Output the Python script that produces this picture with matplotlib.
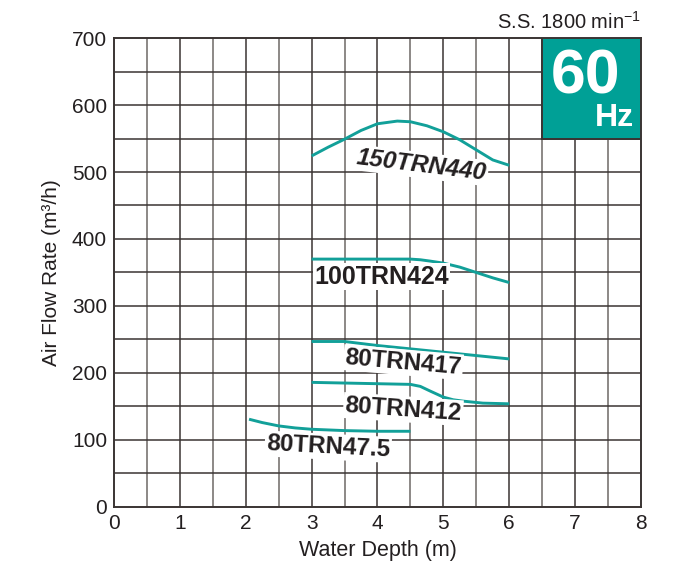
import matplotlib
matplotlib.use("Agg")
import matplotlib.pyplot as plt
from matplotlib.patches import Rectangle

plt.rcParams['font.family'] = ['Liberation Sans', 'DejaVu Sans']
plt.rcParams['mathtext.fontset'] = 'custom'
plt.rcParams['mathtext.rm'] = 'Liberation Sans'

# ---- data ----
x_150 = [3.0, 3.25, 3.5, 3.75, 4.0, 4.3, 4.5, 4.75, 5.0, 5.25, 5.5, 5.75, 6.0]
y_150 = [524, 537, 549, 562, 572, 576, 575, 569, 560, 548, 533, 518, 510]

x_100 = [3.0, 3.5, 4.0, 4.5, 4.65, 4.8, 5.0, 5.25, 5.5, 5.75, 6.0]
y_100 = [370, 370, 370, 370, 369, 367, 364, 358, 350, 342, 335]

x_417 = [3.0, 3.5, 4.0, 4.5, 5.0, 5.5, 6.0]
y_417 = [247, 247, 241, 236, 231, 226, 221]

x_412 = [3.0, 3.5, 4.0, 4.5, 4.65, 4.8, 5.0, 5.15, 5.3, 5.6, 6.0]
y_412 = [186, 185, 184, 183, 180, 173, 164, 160, 158, 155, 154]

x_47 = [2.05, 2.25, 2.5, 2.75, 3.0, 3.5, 4.0, 4.5]
y_47 = [131, 126, 121, 118, 116, 114, 113, 113]

series = [
    (x_150, y_150, "150TRN440", 4.67, 510, -7, True, 17.5),
    (x_100, y_100, "100TRN424", 4.06, 344, 0, False, 18),
    (x_417, y_417, "80TRN417", 4.39, 216, -5, False, 17.5),
    (x_412, y_412, "80TRN412", 4.39, 146, -4, False, 17.5),
    (x_47, y_47, "80TRN47.5", 3.25, 90, -3, False, 17.5),
]

x_ticks = [0, 1, 2, 3, 4, 5, 6, 7, 8]
y_ticks = [0, 100, 200, 300, 400, 500, 600, 700]

teal = "#12A099"
gridc = "#3a3433"
gridl = "#6e6866"

fig = plt.figure(figsize=(6.77, 5.69), dpi=100)
ax = fig.add_axes([0.1684, 0.109, 0.7784, 0.8242])
ax.set_xlim(0, 8)
ax.set_ylim(0, 700)

for v in [i * 0.5 for i in range(1, 16)]:
    ax.axvline(v, color=gridl if v % 1 else gridc, lw=1.1, zorder=1)
for h in range(50, 700, 50):
    ax.axhline(h, color=gridc, lw=1.1, zorder=1)

for s in ax.spines.values():
    s.set_color(gridc)
    s.set_linewidth(1.4)

ax.set_xticks(x_ticks)
ax.set_yticks(y_ticks)
ax.tick_params(length=0, labelsize=15, colors="#231f20", pad=5)
ax.set_xlabel("Water Depth (m)", fontsize=15.5, color="#231f20", labelpad=5)
ax.set_ylabel("Air Flow Rate (m³/h)", fontsize=15, color="#231f20", labelpad=8)

for xs, ys, lab, lx, ly, rot, ital, fs in series:
    ax.plot(xs, ys, color=teal, lw=2.1, zorder=3, solid_capstyle='butt')
    ax.text(lx, ly, lab, fontsize=fs, fontweight='bold',
            style='italic' if ital else 'normal', rotation=rot,
            ha='center', va='center', color="#231f20", zorder=4,
            bbox=dict(facecolor='white', edgecolor='none', pad=1.0))

ax.add_patch(Rectangle((6.5, 550), 1.5, 150, facecolor="#00A096",
                       edgecolor=gridc, lw=1.4, zorder=5))
ax.text(7.16, 617, "60", fontsize=45, fontweight='bold', color='white',
        ha='center', va='baseline', zorder=6)
ax.text(7.6, 569, "Hz", fontsize=23, fontweight='bold', color='white',
        ha='center', va='baseline', zorder=6)

ax.text(1.0, 1.012, "S.S. 1800 min$^{\\mathregular{-1}}$", transform=ax.transAxes,
        ha='right', va='bottom', fontsize=14.5, color="#231f20")

fig.savefig("out.png", dpi=100)
